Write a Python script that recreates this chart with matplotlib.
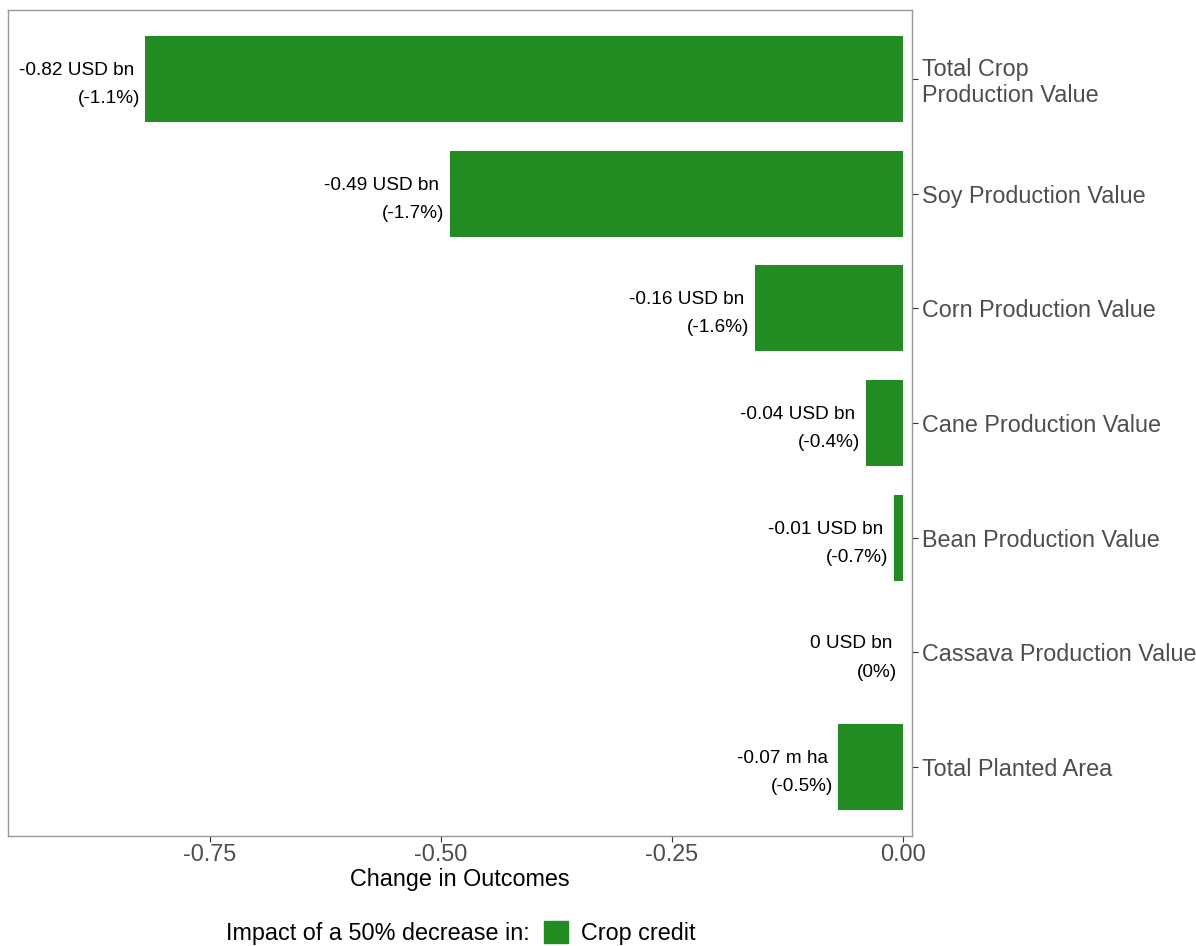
import matplotlib
matplotlib.use("Agg")
import matplotlib.pyplot as plt
from matplotlib.patches import Patch
from matplotlib.offsetbox import HPacker

plt.rcParams['font.family'] = ['Liberation Sans', 'DejaVu Sans']

categories = ["Total Crop\nProduction Value", "Soy Production Value", "Corn Production Value",
              "Cane Production Value", "Bean Production Value", "Cassava Production Value",
              "Total Planted Area"]
values = [-0.82, -0.49, -0.16, -0.04, -0.01, 0.0, -0.07]
value_labels = ["-0.82 USD bn", "-0.49 USD bn", "-0.16 USD bn", "-0.04 USD bn",
                "-0.01 USD bn", "0 USD bn", "-0.07 m ha"]
pct_labels = ["(-1.1%)", "(-1.7%)", "(-1.6%)", "(-0.4%)", "(-0.7%)", "(0%)", "(-0.5%)"]
xticks = [-0.75, -0.50, -0.25, 0.00]
xtick_labels = ["-0.75", "-0.50", "-0.25", "0.00"]
green = "#228B22"

W, H = 1196, 946
fig = plt.figure(figsize=(W / 100, H / 100), dpi=100)
ax = fig.add_axes([8 / W, (H - 836) / H, (912 - 8) / W, (836 - 10) / H])

ypos = list(range(len(categories)))
ax.barh(ypos, values, height=0.75, color=green, linewidth=0)
ax.set_ylim(len(categories) - 0.4, -0.6)
ax.set_xlim(-0.9686, 0.0097)

for y, v, l1, l2 in zip(ypos, values, value_labels, pct_labels):
    ax.annotate(l1 + " \n" + l2, xy=(v, y), xytext=(-4, -4), textcoords="offset points",
                ha="right", va="center", multialignment="right", fontsize=13.7,
                color="black", linespacing=1.85)

ax.set_yticks(ypos)
ax.set_yticklabels(categories, fontsize=16.8, color="#4D4D4D", linespacing=1.15)
ax.yaxis.tick_right()
ax.set_xticks(xticks)
ax.set_xticklabels(xtick_labels, fontsize=16.8, color="#4D4D4D")
ax.tick_params(axis="both", color="#333333", length=4, width=0.8, direction="out")
ax.tick_params(axis="y", pad=3.5)
ax.tick_params(axis="x", pad=1)
ax.set_xlabel("Change in Outcomes", fontsize=16.8, color="black", labelpad=1.5)
for s in ax.spines.values():
    s.set_color("#999999")
    s.set_linewidth(1.0)

handles = [Patch(facecolor=green, edgecolor=green, label="Crop credit")]
leg = fig.legend(handles=handles, loc="center", bbox_to_anchor=(461 / W, (H - 933) / H),
                 ncol=2, frameon=False, fontsize=16.8, title="Impact of a 50% decrease in:",
                 title_fontsize=16.8, handlelength=1.05, handleheight=1.05, handletextpad=0.55,
                 alignment="left")
title_box = leg._legend_title_box
handle_box = leg._legend_handle_box
leg._legend_box._children = [HPacker(pad=0, sep=10, children=[title_box, handle_box], align="center")]

fig.savefig("out.png", dpi=100)
